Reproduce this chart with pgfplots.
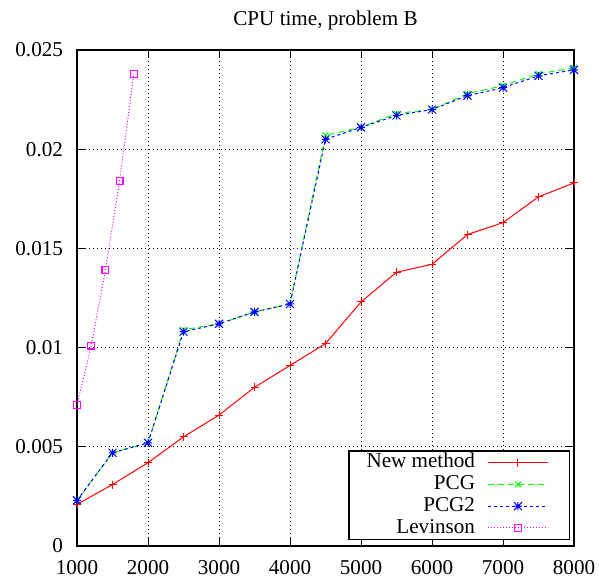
\documentclass[border=0pt]{standalone}
\usepackage{fontspec}
\setmainfont{Liberation Serif}
\usepackage{pgfplots}
\pgfplotsset{compat=1.18}
\usetikzlibrary{calc}

\definecolor{gpred}{RGB}{255,0,0}
\definecolor{gpgreen}{RGB}{0,255,0}
\definecolor{gpblue}{RGB}{0,0,255}
\definecolor{gpmagenta}{RGB}{255,0,255}

% gnuplot style star: plus and cross on top of each other
\pgfdeclareplotmark{gpstar}{%
  \pgfpathmoveto{\pgfqpoint{-\pgfplotmarksize}{0pt}}%
  \pgfpathlineto{\pgfqpoint{\pgfplotmarksize}{0pt}}%
  \pgfpathmoveto{\pgfqpoint{0pt}{-\pgfplotmarksize}}%
  \pgfpathlineto{\pgfqpoint{0pt}{\pgfplotmarksize}}%
  \pgfpathmoveto{\pgfqpoint{-\pgfplotmarksize}{-\pgfplotmarksize}}%
  \pgfpathlineto{\pgfqpoint{\pgfplotmarksize}{\pgfplotmarksize}}%
  \pgfpathmoveto{\pgfqpoint{-\pgfplotmarksize}{\pgfplotmarksize}}%
  \pgfpathlineto{\pgfqpoint{\pgfplotmarksize}{-\pgfplotmarksize}}%
  \pgfusepathqstroke}

\begin{document}
\begin{tikzpicture}[font=\fontsize{10.6}{12.7}\selectfont]
\begin{axis}[
  name=ax,
  width=248.5bp, height=248bp, scale only axis,
  xmin=1000, xmax=8000, ymin=0, ymax=0.025,
  xtick={1000,2000,3000,4000,5000,6000,7000,8000},
  xticklabels={1000,2000,3000,4000,5000,6000,7000,8000},
  ytick={0,0.005,0.01,0.015,0.02,0.025},
  yticklabels={0,0.005,0.01,0.015,0.02,0.025},
  scaled ticks=false,
  /pgf/number format/assume math mode=true,
  grid=major,
  major grid style={black, line width=0.4bp, dash pattern=on 0.5bp off 1.5bp},
  tick align=inside, major tick length=4bp,
  tick style={black, line width=0.5bp},
  axis line style={line width=0.6bp},
  yticklabel style={xshift=-3.5bp},
  xticklabel style={yshift=-3.5bp},
  title={CPU time, problem B},
  title style={at={(0.5,1)}, anchor=base, yshift=6.5bp},
  legend plot pos=right,
  legend cell align=right,
  legend style={at={(0.992,0.012)}, anchor=south east, draw=black,
    line width=0.6bp, inner xsep=8.5bp, inner ysep=0.3bp,
    row sep=0pt, column sep=5.9bp,
    nodes={inner sep=0.3bp, text height=7.8bp, text depth=2.5bp}},
  legend image code/.code={%
    \draw[mark repeat=2,mark phase=2] plot coordinates {(0bp,0bp) (15bp,0bp) (30bp,0bp)};
    \path (32bp,0bp);},
]
\addplot[gpred, draw=gpred, line width=0.5bp, mark=+, mark size=2bp] coordinates {
  (1000,0.0021) (1500,0.0031) (2000,0.0042) (2500,0.0055) (3000,0.0066)
  (3500,0.0080) (4000,0.0091) (4500,0.0102) (5000,0.0123) (5500,0.0138)
  (6000,0.0142) (6500,0.0157) (7000,0.0163) (7500,0.0176) (8000,0.0183)
};
\addlegendentry{New method}
\addplot[gpgreen, draw=gpgreen, line width=0.5bp, dash pattern=on 3bp off 2bp, mark=x, mark size=2bp, mark options={solid}] coordinates {
  (1000,0.0023) (1500,0.0047) (2000,0.0052) (2500,0.0109) (3000,0.0112)
  (3500,0.0118) (4000,0.0122) (4500,0.0207) (5000,0.0211) (5500,0.0218)
  (6000,0.0220) (6500,0.0228) (7000,0.0232) (7500,0.0238) (8000,0.0241)
};
\addlegendentry{PCG}
\addplot[gpblue, draw=gpblue, line width=0.5bp, dash pattern=on 1.5bp off 1.5bp, mark=gpstar, mark size=2bp, mark options={solid}] coordinates {
  (1000,0.0023) (1500,0.0047) (2000,0.0052) (2500,0.0108) (3000,0.0112)
  (3500,0.0118) (4000,0.0122) (4500,0.0205) (5000,0.0211) (5500,0.0217)
  (6000,0.0220) (6500,0.0227) (7000,0.0231) (7500,0.0237) (8000,0.0240)
};
\addlegendentry{PCG2}
\addplot[gpmagenta, draw=gpmagenta, line width=0.5bp, dash pattern=on 0.5bp off 1bp, mark=square, mark size=1.7bp, mark options={solid, line width=0.6bp}] coordinates {
  (1000,0.0071) (1200,0.0101) (1400,0.0139) (1600,0.0184) (1800,0.0238)
};
\addlegendentry{Levinson}
\end{axis}
\pgfresetboundingbox
\path ($(ax.south west)+(-38.5bp,-16.5bp)$) rectangle ($(ax.north east)+(12.5bp,25bp)$);
\end{tikzpicture}
\end{document}
